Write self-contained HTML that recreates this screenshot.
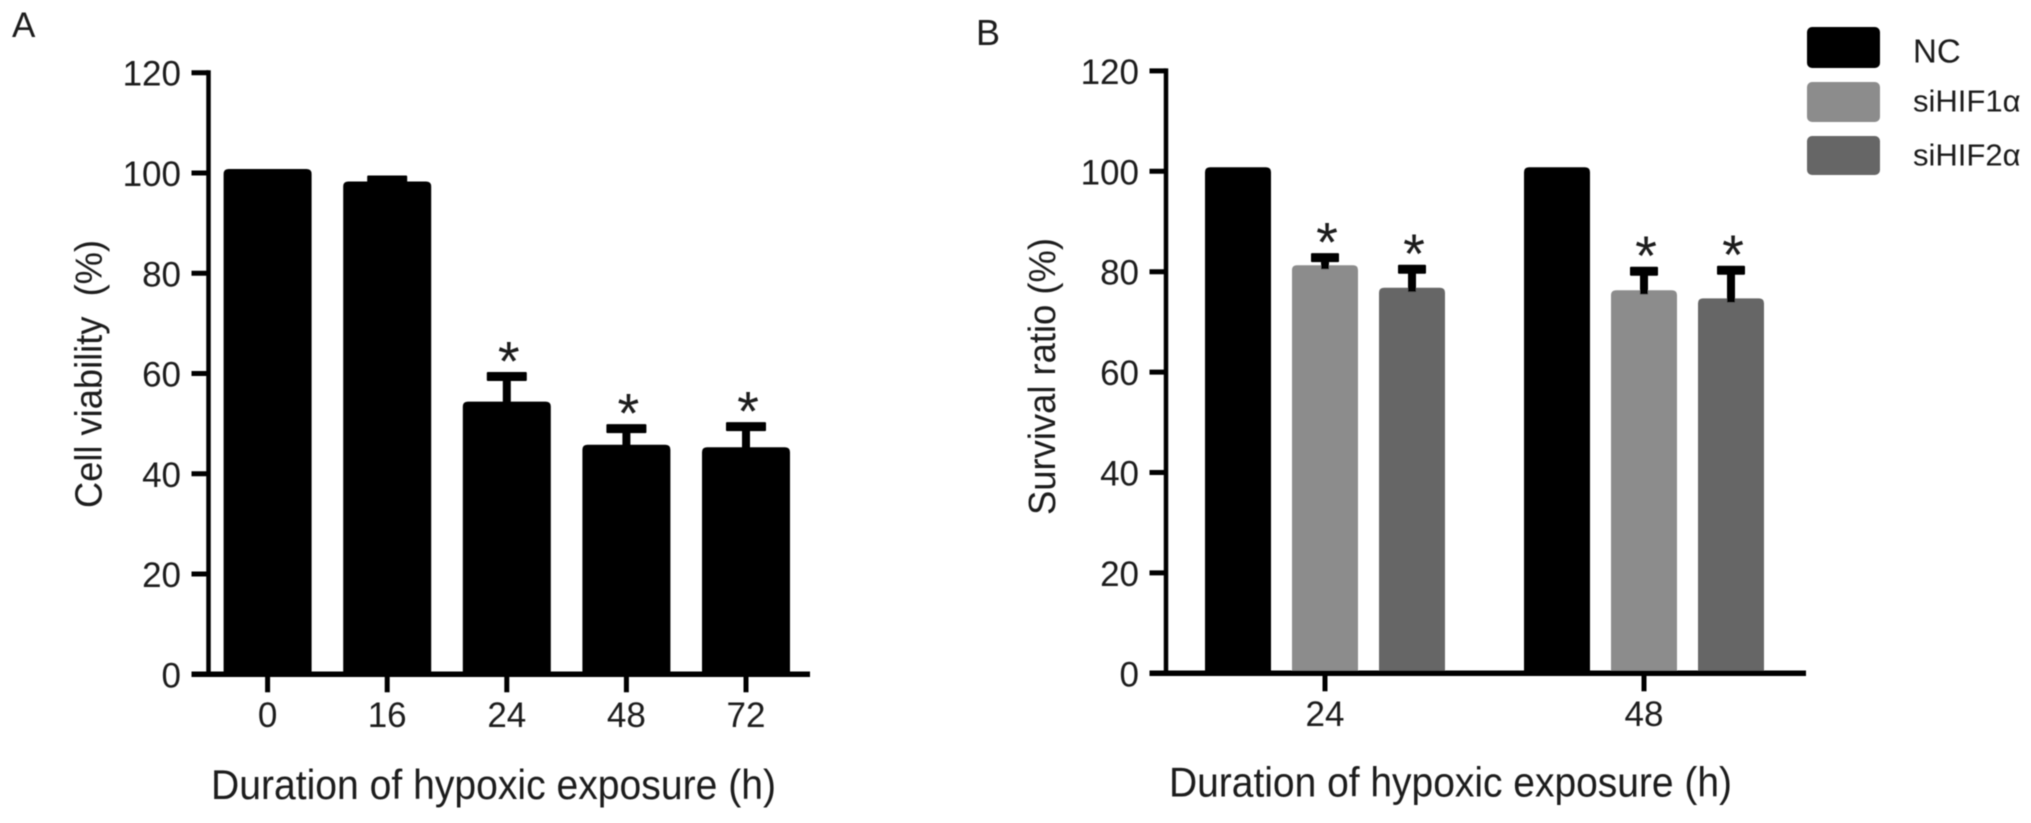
<!DOCTYPE html>
<html>
<head>
<meta charset="utf-8">
<title>Cell viability and survival ratio under hypoxia</title>
<style>
html,body{margin:0;padding:0;background:#fff;width:2031px;height:823px;overflow:hidden}
svg{display:block}
text{font-family:"Liberation Sans",sans-serif;fill:#1a1a1a}
</style>
</head>
<body>
<svg id="figure" width="2031" height="823" viewBox="0 0 2031 823" xmlns="http://www.w3.org/2000/svg">
<defs><filter id="soft" x="-2%" y="-2%" width="104%" height="104%"><feGaussianBlur stdDeviation="0.6"/></filter></defs>
<g id="root" filter="url(#soft)"></g>
</svg>
<script>
const yTickLabels = [0, 20, 40, 60, 80, 100, 120];

const categoriesA = ["0", "16", "24", "48", "72"];
const valuesA = [100, 97.5, 53.6, 45, 44.5];
const errorsA = [0, 0.3, 5, 3.2, 4.1];
const significantA = [false, false, true, true, true];

const groupsB = ["24", "48"];
const seriesNames = ["NC", "siHIF1α", "siHIF2α"];
const seriesColors = ["#000000", "#8c8c8c", "#666666"];
const valuesNC = [100, 100];
const valuesSi1 = [80.5, 75.5];
const valuesSi2 = [76, 73.9];
const errorsNC = [0, 0];
const errorsSi1 = [1.5, 3.8];
const errorsSi2 = [3.7, 5.6];
const significantNC = [false, false];
const significantSi1 = [true, true];
const significantSi2 = [true, true];

const NS = "http://www.w3.org/2000/svg";
const root = document.getElementById("root");

function add(parent, tag, attrs, txt) {
  const e = document.createElementNS(NS, tag);
  for (const k in attrs) e.setAttribute(k, attrs[k]);
  if (txt !== undefined) e.textContent = txt;
  parent.appendChild(e);
  return e;
}
function makeY(y0, perUnit) { return v => y0 - perUnit * v; }

function drawAxes(axisX, left, right, yFn, name) {
  const g = add(root, "g", {});
  
  
  const yl = add(g, "line", {x1: axisX, x2: axisX, y1: yFn(120) - 2.5, y2: yFn(0) + 2.5, stroke: "#000", "stroke-width": 4.5});
  
  
  const xl = add(g, "line", {x1: left, x2: right, y1: yFn(0), y2: yFn(0), stroke: "#000", "stroke-width": 5.5});
  
  
  yTickLabels.forEach(v => {
    const t = add(g, "line", {x1: left, x2: axisX, y1: yFn(v), y2: yFn(v), stroke: "#000", "stroke-width": 5});
    
    
    const l = add(g, "text", {x: left - 10.5, y: yFn(v) + 13, "font-size": 35, "text-anchor": "end"}, String(v));
    
    
  });
}
function drawXTick(x, label, yFn, baseline, name) {
  const t = add(root, "line", {x1: x, x2: x, y1: yFn(0), y2: yFn(0) + 18, stroke: "#000", "stroke-width": 5});
  
  
  const l = add(root, "text", {x: x, y: baseline, "font-size": 35, "text-anchor": "middle"}, label);
  
  
}
function drawBar(cx, w, value, err, sig, color, yFn, capW, name, starDx, starDy) {
  const top = yFn(value) - 4;
  const bottom = yFn(0);
  const r = 5;
  const left = cx - w / 2;
  const right = cx + w / 2;
  const b = add(root, "path", {
    d: "M" + left + " " + bottom + "V" + (top + r) + "Q" + left + " " + top + " " + (left + r) + " " + top +
       "H" + (right - r) + "Q" + right + " " + top + " " + right + " " + (top + r) + "V" + bottom + "Z",
    fill: color
  });
  
  
  if (err > 0) {
    const capY = yFn(value + err) - 4;
    const eg = add(root, "g", {});
    
    
    add(eg, "rect", {x: cx - 4, y: capY, width: 8, height: top + 4 - capY, fill: "#000"});
    add(eg, "rect", {x: cx - capW / 2, y: capY - 4.5, width: capW, height: 9, rx: 1, fill: "#000"});
    if (sig) {
      const s = add(root, "text", {x: cx + starDx, y: capY - 4.5 + starDy, "font-size": 56, "text-anchor": "middle"}, "*");
      
      
    }
  }
}
function drawStatic(x, y, size, txt, name, extra) {
  const a = Object.assign({x: x, y: y, "font-size": size}, extra || {});
  const t = add(root, "text", a, txt);
  
  
  return t;
}

/* Panel A */
const yA = makeY(674.3, 5.013);
const xA = i => 267.6 + i * 119.6;
drawStatic(12, 37, 35, "A", "panel-a-label");
categoriesA.forEach((c, i) => {
  drawBar(xA(i), 88, valuesA[i], errorsA[i], significantA[i], "#000000", yA, 40, "panel-a-" + c + "h", 2, 8.5);
});
drawAxes(208.5, 191.5, 810, yA, "panel-a");
categoriesA.forEach((c, i) => {
  drawXTick(xA(i), c, yA, 727, "panel-a");
});
drawStatic(211, 799, 42, "Duration of hypoxic exposure (h)", "panel-a-x-axis-title", {textLength: 565, lengthAdjust: "spacingAndGlyphs"});
const titleA = drawStatic(0, 0, 38, "Cell viability  (%)", "panel-a-y-axis-title", {transform: "translate(101.5 508) rotate(-90)", textLength: 268, lengthAdjust: "spacingAndGlyphs"});
titleA.setAttribute("xml:space", "preserve");
titleA.style.whiteSpace = "pre";

/* Panel B */
const yB = makeY(673.3, 5.02);
const allValues = [valuesNC, valuesSi1, valuesSi2];
const allErrors = [errorsNC, errorsSi1, errorsSi2];
const allSig = [significantNC, significantSi1, significantSi2];
const groupCenter = g => 1325 + g * 319;
const seriesOffset = s => (s - 1) * 87;
drawStatic(976, 45, 36, "B", "panel-b-label");
groupsB.forEach((g, gi) => {
  seriesNames.forEach((n, si) => {
    drawBar(groupCenter(gi) + seriesOffset(si), 66, allValues[si][gi], allErrors[si][gi], allSig[si][gi], seriesColors[si], yB, 28, "panel-b-" + g + "h-" + n, 2, 8.5);
  });
});
drawAxes(1166, 1149.5, 1806, yB, "panel-b");
groupsB.forEach((g, gi) => {
  drawXTick(groupCenter(gi), g, yB, 726, "panel-b");
});
drawStatic(1169, 796.5, 42, "Duration of hypoxic exposure (h)", "panel-b-x-axis-title", {textLength: 563, lengthAdjust: "spacingAndGlyphs"});
drawStatic(0, 0, 38, "Survival ratio (%)", "panel-b-y-axis-title", {transform: "translate(1055 515) rotate(-90)", textLength: 277, lengthAdjust: "spacingAndGlyphs"});

/* Legend */
const legendTops = [27, 82, 136];
const legendHeights = [41, 40, 39];
const legendBaselines = [62.5, 111.5, 165.5];
const legendFontSizes = [33, 31, 31];
seriesNames.forEach((n, i) => {
  const g = add(root, "g", {});
  
  
  add(g, "rect", {x: 1807, y: legendTops[i], width: 73, height: legendHeights[i], rx: 5, fill: seriesColors[i]});
  add(g, "text", {x: 1913, y: legendBaselines[i], "font-size": legendFontSizes[i]}, n);
});
</script>
</body>
</html>
